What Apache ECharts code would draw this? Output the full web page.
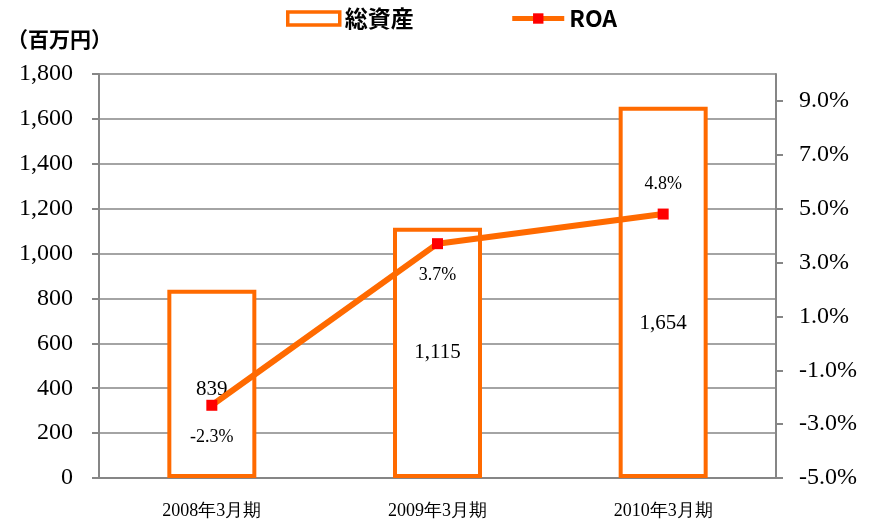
<!DOCTYPE html>
<html><head><meta charset="utf-8">
<script src="https://cdn.jsdelivr.net/npm/echarts@6/dist/echarts.min.js"></script>
<style>html,body{margin:0;padding:0;background:#fff}#c{width:876px;height:523px}</style>
</head><body><div id="c"></div>
<script>
const categories = ['2008年3月期', '2009年3月期', '2010年3月期'];
const totalAssets = [839, 1115, 1654];
const roa = [-2.3, 3.7, 4.8];
const leftTicks = {min: 0, max: 1800, interval: 200};
const rightTicks = {min: -5, max: 10, interval: 2};

const shift = -rightTicks.min; // right axis counted from 0 so ticks start at min
const serif = '"Liberation Serif", "Times New Roman", serif';
const sans = '"Noto Sans CJK JP", "Noto Sans", sans-serif';
const orange = '#FF6A00';
const grey = '#868686';

const chart = echarts.init(document.getElementById('c'));
chart.setOption({
  animation: false,
  backgroundColor: '#fff',
  title: {text: '（百万円）', left: 2, top: 24,
    textStyle: {fontFamily: sans, fontSize: 21, fontWeight: 'bold', color: '#000'}},
  legend: {
    top: 2, left: 281, itemGap: 96, itemWidth: 52, itemHeight: 13,
    textStyle: {fontFamily: sans, fontSize: 23, fontWeight: 'bold', color: '#000'},
    data: [
      {name: '総資産', icon: 'rect', itemStyle: {color: '#fff', borderColor: orange, borderWidth: 3.5}},
      {name: 'ROA', lineStyle: {width: 5, color: orange}}
    ]
  },
  grid: {left: 99, right: 100, top: 74, bottom: 45},
  xAxis: {
    type: 'category', data: categories,
    axisLine: {lineStyle: {color: grey, width: 2}},
    axisTick: {show: false},
    axisLabel: {fontFamily: serif, fontSize: 18, color: '#000', margin: 24}
  },
  yAxis: [
    {type: 'value', min: leftTicks.min, max: leftTicks.max, interval: leftTicks.interval,
     axisLine: {show: true, lineStyle: {color: grey, width: 2}},
     axisTick: {show: true, length: 7, lineStyle: {color: grey, width: 2}},
     splitLine: {lineStyle: {color: grey, width: 1.5}},
     axisLabel: {fontFamily: serif, fontSize: 24, color: '#000', margin: 26,
       formatter: v => v.toLocaleString('en-US')}},
    {type: 'value', min: 0, max: rightTicks.max + shift, interval: rightTicks.interval,
     position: 'right',
     axisLine: {show: true, lineStyle: {color: grey, width: 2}},
     axisTick: {show: true, length: 7, lineStyle: {color: grey, width: 2}},
     splitLine: {show: false},
     axisLabel: {fontFamily: serif, fontSize: 24, color: '#000', margin: 23, showMaxLabel: false,
       formatter: v => (v - shift).toFixed(1) + '%'}}
  ],
  series: [
    {name: '総資産', type: 'bar', barWidth: 89, yAxisIndex: 0,
     itemStyle: {color: '#fff', borderColor: orange, borderWidth: 4},
     label: {show: true, position: 'inside', fontFamily: serif, fontSize: 21, color: '#000',
       formatter: p => p.value.toLocaleString('en-US')},
     data: totalAssets.map((v, i) => ({value: v, label: {offset: [0, [6, 0, 31][i]]}}))},
    {name: 'ROA', type: 'line', yAxisIndex: 1, symbol: 'rect', symbolSize: 11,
     lineStyle: {color: orange, width: 6},
     itemStyle: {color: '#FF0000', borderWidth: 0},
     label: {show: true, fontFamily: serif, fontSize: 18, color: '#000',
       formatter: p => roa[p.dataIndex].toFixed(1) + '%'},
     data: roa.map((v, i) => ({value: v + shift,
       label: {position: i < 2 ? 'bottom' : 'top', distance: i < 2 ? 17 : 15}}))}
  ]
});
</script></body></html>
